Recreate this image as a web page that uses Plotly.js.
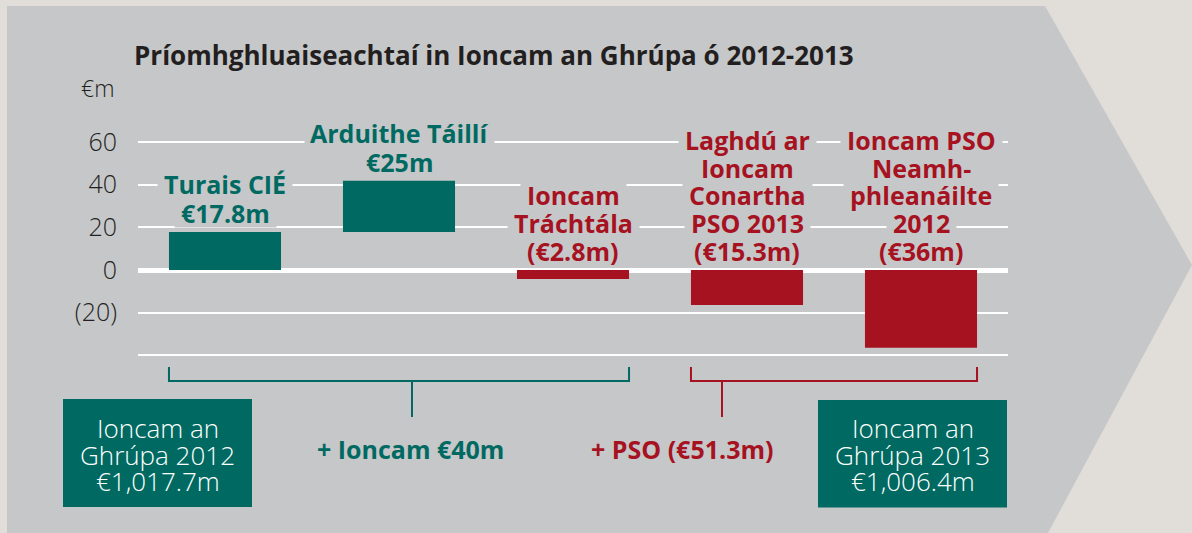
<!DOCTYPE html>
<html><head><meta charset="utf-8">
<script src="https://cdn.plot.ly/plotly-3.0.1.min.js"></script>
<style>html,body{margin:0;padding:0;background:#e1ddd9;} #chart{width:1192px;height:533px;}</style>
</head><body><div id="chart"></div>
<script>
// ---------- data ----------
const categories = ['Turais CIÉ', 'Arduithe Táillí', 'Ioncam Tráchtála',
  'Laghdú ar Ioncam Conartha PSO 2013', 'Ioncam PSO Neamhphleanáilte 2012'];
const tealCategories = ['Turais CIÉ', 'Arduithe Táillí'];
const tealBase = [0, 17.8];
const tealValues = [17.8, 24];
const redCategories = ['Ioncam Tráchtála', 'Laghdú ar Ioncam Conartha PSO 2013', 'Ioncam PSO Neamhphleanáilte 2012'];
const redBase = [0, 0, 0];
const redValues = [-4.2, -16.4, -36.5];
const labelLines = [
  ['Turais CIÉ', '€17.8m'],
  ['Arduithe Táillí', '€25m'],
  ['Ioncam', 'Tráchtála', '(€2.8m)'],
  ['Laghdú ar', 'Ioncam', 'Conartha', 'PSO 2013', '(€15.3m)'],
  ['Ioncam PSO', 'Neamh-', 'phleanáilte', '2012', '(€36m)']
];
const tickVals = [-40, -20, 0, 20, 40, 60];
const tickText = ['', '(20)', '0', '20', '40', '60'];
const unitLabel = '€m';
const titleText = 'Príomhghluaiseachtaí in Ioncam an Ghrúpa ó 2012-2013';
const groupLabels = ['+ Ioncam €40m', '+ PSO (€51.3m)'];
const box2012Lines = ['Ioncam an', 'Ghrúpa 2012', '€1,017.7m'];
const box2013Lines = ['Ioncam an', 'Ghrúpa 2013', '€1,006.4m'];

// ---------- styling / geometry ----------
const TEAL = '#006a62', RED = '#a6121f', GREY = '#c6c7c9', BEIGE = '#e1ddd9', DARK = '#231f20';
const FONT = 'Open Sans, Noto Sans, sans-serif';
const W = 1192, H = 533, L = 138, R = 1008, T = 100, B = 400;
const zeroPx = 270, pxPerUnit = 128 / 60;
const yRange = [(zeroPx - B) / pxPerUnit, (zeroPx - T) / pxPerUnit];
const px2x = px => (px - L) / (R - L);
const py2y = py => (B - py) / (B - T);
const BAR_W = 0.644;
const LABEL_SIZE = 25;

const ctx = document.createElement('canvas').getContext('2d');
ctx.font = '700 ' + LABEL_SIZE + 'px "Open Sans"';
const textWidth = s => ctx.measureText(s).width;

const traces = [
  {type: 'bar', x: tealCategories, y: tealValues, base: tealBase, width: BAR_W,
   marker: {color: TEAL, line: {width: 0}}, hoverinfo: 'skip'},
  {type: 'bar', x: redCategories, y: redValues, base: redBase, width: BAR_W,
   marker: {color: RED, line: {width: 0}}, hoverinfo: 'skip'}
];

const knockouts = [];   // grey halos that break the gridlines behind the labels
const labels = [];      // the visible label texts, drawn on top of all halos
categories.forEach((cat, i) => {
  const ti = tealCategories.indexOf(cat);
  let anchor, color, spacing;
  if (ti >= 0) { anchor = tealBase[ti] + tealValues[ti]; color = TEAL; spacing = 29; }
  else { const ri = redCategories.indexOf(cat); anchor = redBase[ri]; color = RED; spacing = 27.8; }
  const lines = labelLines[i];
  const n = lines.length;
  lines.forEach((ln, j) => {
    const base = {x: cat, xref: 'x', y: anchor, yref: 'y', yanchor: 'middle', xanchor: 'center',
      yshift: 19 + (n - 1 - j) * spacing, showarrow: false, borderpad: 0};
    knockouts.push(Object.assign({}, base, {text: ' ', bgcolor: GREY,
      width: Math.round(textWidth(ln) + 12), height: 28,
      font: {family: FONT, size: 10, color: GREY}}));
    labels.push(Object.assign({}, base, {text: ln,
      font: {family: FONT, size: LABEL_SIZE, weight: 700, color: color}}));
  });
});
const annotations = knockouts.concat(labels);
// unit label
annotations.push({x: px2x(97), xref: 'paper', y: py2y(88), yref: 'paper', xanchor: 'center', yanchor: 'middle',
  showarrow: false, text: unitLabel, font: {family: FONT, size: 23, weight: 300, color: DARK}});
// group labels
annotations.push({x: px2x(410), xref: 'paper', y: py2y(449), yref: 'paper', xanchor: 'center', yanchor: 'middle',
  showarrow: false, text: groupLabels[0], font: {family: FONT, size: 25, weight: 700, color: TEAL}});
annotations.push({x: px2x(682), xref: 'paper', y: py2y(449), yref: 'paper', xanchor: 'center', yanchor: 'middle',
  showarrow: false, text: groupLabels[1], font: {family: FONT, size: 25, weight: 700, color: RED}});
// box texts
function boxText(lines, cx) {
  lines.forEach((ln, j) => {
    annotations.push({x: px2x(cx), xref: 'paper', y: py2y(428 + j * 26.5), yref: 'paper',
      xanchor: 'center', yanchor: 'middle', showarrow: false, text: ln,
      font: {family: FONT, size: 26, weight: 300, color: '#ffffff'}});
  });
}
boxText(box2012Lines, 157.5);
boxText(box2013Lines, 912.5);

// shapes
const shapes = [];
const bgPts = [[7, 6], [1045, 6], [1192, 265], [1048, 533], [7, 533]];
shapes.push({type: 'path', xref: 'paper', yref: 'paper', layer: 'below', fillcolor: GREY, line: {width: 0},
  path: 'M ' + bgPts.map(p => px2x(p[0]) + ',' + py2y(p[1])).join(' L ') + ' Z'});
shapes.push({type: 'rect', xref: 'paper', yref: 'paper', layer: 'above', fillcolor: TEAL, line: {width: 0},
  x0: px2x(63), x1: px2x(252), y0: py2y(399), y1: py2y(507)});
shapes.push({type: 'rect', xref: 'paper', yref: 'paper', layer: 'above', fillcolor: TEAL, line: {width: 0},
  x0: px2x(818), x1: px2x(1007), y0: py2y(400), y1: py2y(507.5)});
function bracket(i0, i1, stemPx, color) {
  const x0 = i0 - BAR_W / 2, x1 = i1 + BAR_W / 2;
  const yTop = py2y(367), yMid = py2y(381), yStem = py2y(417);
  const ln = {color: color, width: 2};
  shapes.push({type: 'path', xref: 'x', yref: 'paper', layer: 'above', line: ln,
    path: `M ${x0},${yTop} L ${x0},${yMid} L ${x1},${yMid} L ${x1},${yTop}`});
  shapes.push({type: 'line', xref: 'paper', yref: 'paper', layer: 'above', line: ln,
    x0: px2x(stemPx), x1: px2x(stemPx), y0: yMid, y1: yStem});
}
bracket(0, 2, 412, TEAL);
bracket(3, 4, 722, RED);

const layout = {
  width: W, height: H,
  margin: {l: L, r: W - R, t: T, b: H - B, pad: 0},
  paper_bgcolor: BEIGE, plot_bgcolor: 'rgba(0,0,0,0)',
  showlegend: false, barmode: 'overlay',
  title: {text: titleText, xref: 'container', yref: 'container', x: 134 / W, xanchor: 'left',
    y: 1 - 55.5 / H, yanchor: 'middle', font: {family: FONT, size: 26, weight: 700, color: DARK}},
  xaxis: {type: 'category', categoryorder: 'array', categoryarray: categories, range: [-0.5, 4.5],
    showticklabels: false, showgrid: false, zeroline: false, showline: false, ticks: '', fixedrange: true},
  yaxis: {range: yRange, tickvals: tickVals, ticktext: tickText, showgrid: true, gridcolor: '#ffffff', gridwidth: 2,
    zeroline: true, zerolinecolor: '#ffffff', zerolinewidth: 5, showline: false, ticks: '',
    ticklabelstandoff: 20, tickfont: {family: FONT, size: 25, weight: 300, color: DARK}, fixedrange: true},
  shapes: shapes, annotations: annotations
};
Plotly.newPlot('chart', traces, layout, {staticPlot: true, displayModeBar: false});
</script></body></html>
